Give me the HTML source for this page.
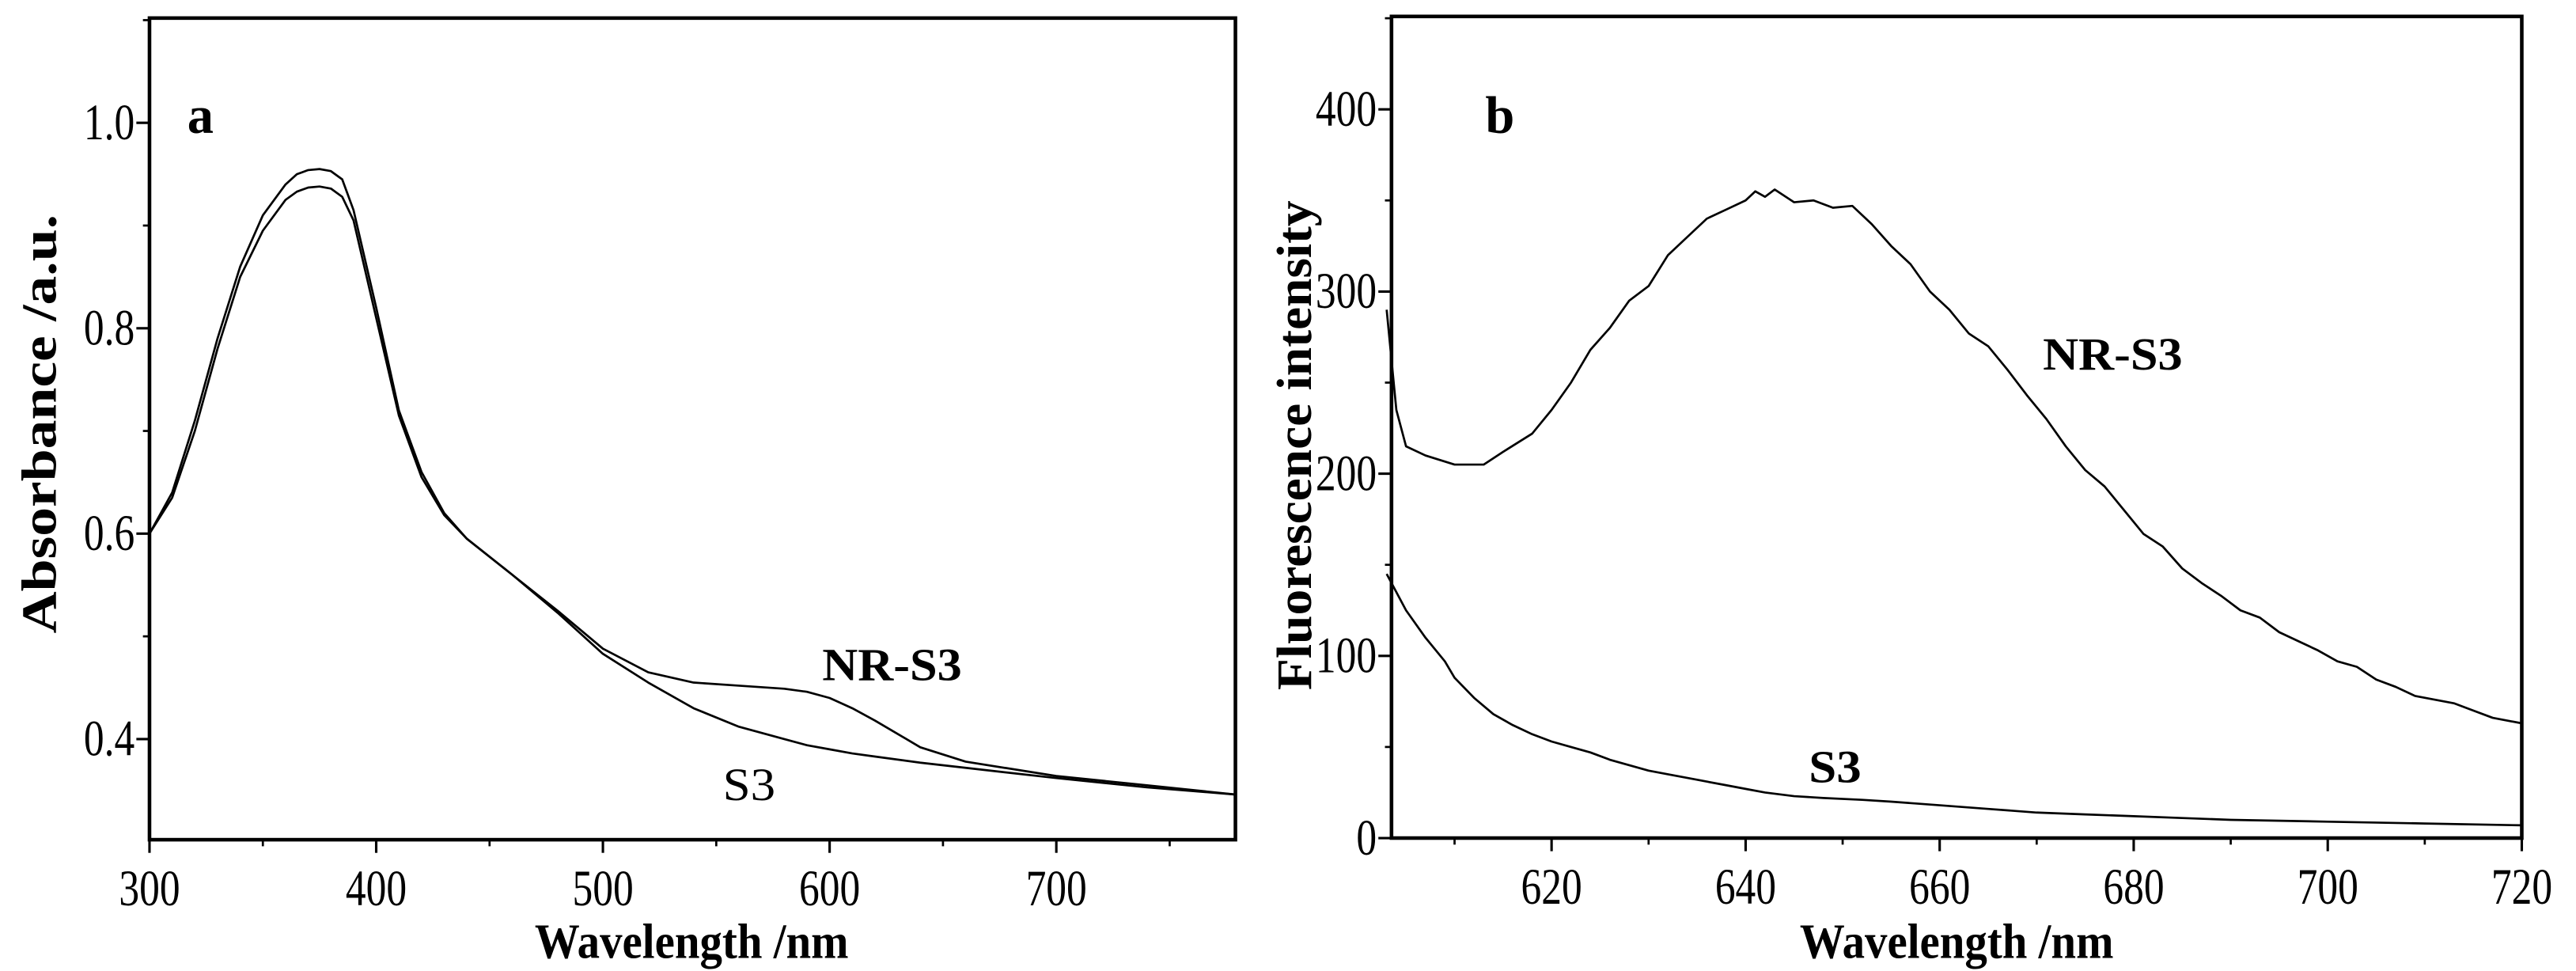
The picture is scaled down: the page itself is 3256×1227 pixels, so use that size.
<!DOCTYPE html>
<html><head><meta charset="utf-8"><style>html,body{margin:0;padding:0;background:#fff}svg{display:block}text{font-family:"Liberation Serif",serif;fill:#000}</style></head>
<body>
<svg id="fig" width="3256" height="1227" viewBox="0 0 1568 590.9" preserveAspectRatio="none" xmlns="http://www.w3.org/2000/svg"></svg>
<script>
const aWl=[300,310,320,330,340,350,360,365,370,375,380,385,390,400,410,420,430,440,460,480,500,520,540,560,580,590,600,610,620,640,660,700,740,779];
const aNR=[0.60,0.64,0.71,0.79,0.86,0.91,0.94,0.950,0.954,0.955,0.953,0.945,0.915,0.82,0.72,0.66,0.62,0.595,0.56,0.525,0.488,0.465,0.455,0.452,0.449,0.446,0.44,0.43,0.418,0.392,0.378,0.364,0.355,0.346];
const aS3=[0.60,0.635,0.70,0.78,0.85,0.895,0.925,0.933,0.937,0.938,0.936,0.928,0.905,0.81,0.715,0.655,0.618,0.595,0.56,0.523,0.483,0.455,0.43,0.412,0.4,0.394,0.39,0.386,0.383,0.377,0.372,0.362,0.353,0.346];
const bWlNR=[603,604,605,607,610,613,615,618,620,622,624,626,628,630,632,634,636,638,640,641,642,643,645,647,649,651,653,655,657,659,661,663,665,667,669,671,673,675,677,679,681,683,685,687,689,691,693,695,697,699,701,703,705,707,709,711,713,715,717,720];
const bNR=[290,235,215,210,205,205,212,222,235,250,268,280,295,303,320,330,340,345,350,355,352,356,349,350,346,347,337,325,315,300,290,277,270,257,243,230,215,202,193,180,167,160,148,140,133,125,121,113,108,103,97,94,87,83,78,76,74,70,66,63];
const bWlS3=[603,605,607,609,610,612,614,616,618,620,622,624,626,628,630,632,635,638,640,642,645,648,652,655,660,665,670,675,680,685,690,700,710,720];
const bS3=[145,125,110,97,88,77,68,62,57,53,50,47,43,40,37,35,32,29,27,25,23,22,21,20,18,16,14,13,12,11,10,9,8,7];
const aXTicks=[300,400,500,600,700];
const aYTicks=[0.4,0.6,0.8,1.0];
const bXTicks=[620,640,660,680,700,720];
const bYTicks=[0,100,200,300,400];

const NS="http://www.w3.org/2000/svg";
const svg=document.getElementById('fig');
function mk(tag,attrs,parent){const e=document.createElementNS(NS,tag);for(const k in attrs)e.setAttribute(k,attrs[k]);(parent||svg).appendChild(e);return e;}
function txt(s,x,y,size,bold,anchor,name,rot,len){const t=mk('text',{x:x,y:y,'font-size':size,'text-anchor':anchor||'middle'});if(bold)t.setAttribute('font-weight','bold');if(rot)t.setAttribute('transform','rotate(-90 '+x+' '+y+')');if(len){t.setAttribute('textLength',len);t.setAttribute('lengthAdjust','spacingAndGlyphs');}t.textContent=s;


return t;}

function panel(p){
  const X=v=>p.L+(v-p.x0)/(p.x1-p.x0)*(p.R-p.L);
  const Y=v=>p.B-(v-p.y0)/(p.y1-p.y0)*(p.B-p.T);
  const g=mk('g',{});
  
  
  for(let v=p.xMinStart;v<=p.x1+1e-9;v+=p.xMinor){const l=mk('line',{x1:X(v),x2:X(v),y1:p.B,y2:p.B+4,stroke:'#000','stroke-width':1.3},g);}
  for(let v=p.yMinStart;v<=p.y1+1e-9;v+=p.yMinor){const l=mk('line',{x1:p.L-4,x2:p.L,y1:Y(v),y2:Y(v),stroke:'#000','stroke-width':1.3},g);}
  p.xt.forEach(v=>{const l=mk('line',{x1:X(v),x2:X(v),y1:p.B,y2:p.B+8,stroke:'#000','stroke-width':1.5},g);
    const t=txt(String(v),0,0,31,false,'middle','x-tick-label');t.setAttribute('transform','translate('+X(v)+','+(p.B+40)+') scale(0.8,1)');});
  p.yt.forEach(v=>{const l=mk('line',{x1:p.L-8,x2:p.L,y1:Y(v),y2:Y(v),stroke:'#000','stroke-width':1.5},g);
    const t=txt(p.yfmt(v),0,0,31,false,'end','y-tick-label');t.setAttribute('transform','translate('+(p.L-9)+','+(Y(v)+10)+') scale(0.8,1)');});
  p.series.forEach(s=>{const d=s.x.map((v,i)=>(i?'L':'M')+X(v).toFixed(2)+','+Y(s.y[i]).toFixed(2)).join('');
    const path=mk('path',{d:d,fill:'none',stroke:'#000','stroke-width':1.3,'stroke-linejoin':'round'},g);
    
    });
  const r=mk('rect',{x:p.L,y:p.T,width:p.R-p.L,height:p.B-p.T,fill:'none',stroke:'#000','stroke-width':2.2},g);
  
  
}
panel({name:'panel-a',L:91,R:752,T:11,B:511,x0:300,x1:779,y0:0.302,y1:1.102,xt:aXTicks,yt:aYTicks,xMinStart:350,xMinor:100,yMinStart:0.5,yMinor:0.2,yfmt:v=>v.toFixed(1),
  series:[{name:'nr-s3-absorbance-line',x:aWl,y:aNR},{name:'s3-absorbance-line',x:aWl,y:aS3}]});
panel({name:'panel-b',L:847,R:1535,T:10,B:510,x0:603.5,x1:720,y0:0,y1:451,xt:bXTicks,yt:bYTicks,xMinStart:610,xMinor:20,yMinStart:50,yMinor:100,yfmt:v=>String(v),
  series:[{name:'nr-s3-fluorescence-line',x:bWlNR,y:bNR},{name:'s3-fluorescence-line',x:bWlS3,y:bS3}]});

txt('a',122,81,32,true,'middle','panel-a-label');
txt('b',913,81,32,true,'middle','panel-b-label');
txt('NR-S3',543,414,28,true,'middle','nr-s3-label-a',false,85);
txt('S3',456,487,28,false,'middle','s3-label-a',false,32);
txt('NR-S3',1286,225,28,true,'middle','nr-s3-label-b',false,85);
txt('S3',1117,476,28,true,'middle','s3-label-b',false,32);
txt('Absorbance /a.u.',34,258,30,true,'middle','y-axis-title-a',true,255);
txt('Fluorescence intensity',798,271,30,true,'middle','y-axis-title-b',true,298);
txt('Wavelength /nm',421,583,30,true,'middle','x-axis-title-a',false,191);
txt('Wavelength /nm',1191,583,30,true,'middle','x-axis-title-b',false,191);
</script>
</body></html>
